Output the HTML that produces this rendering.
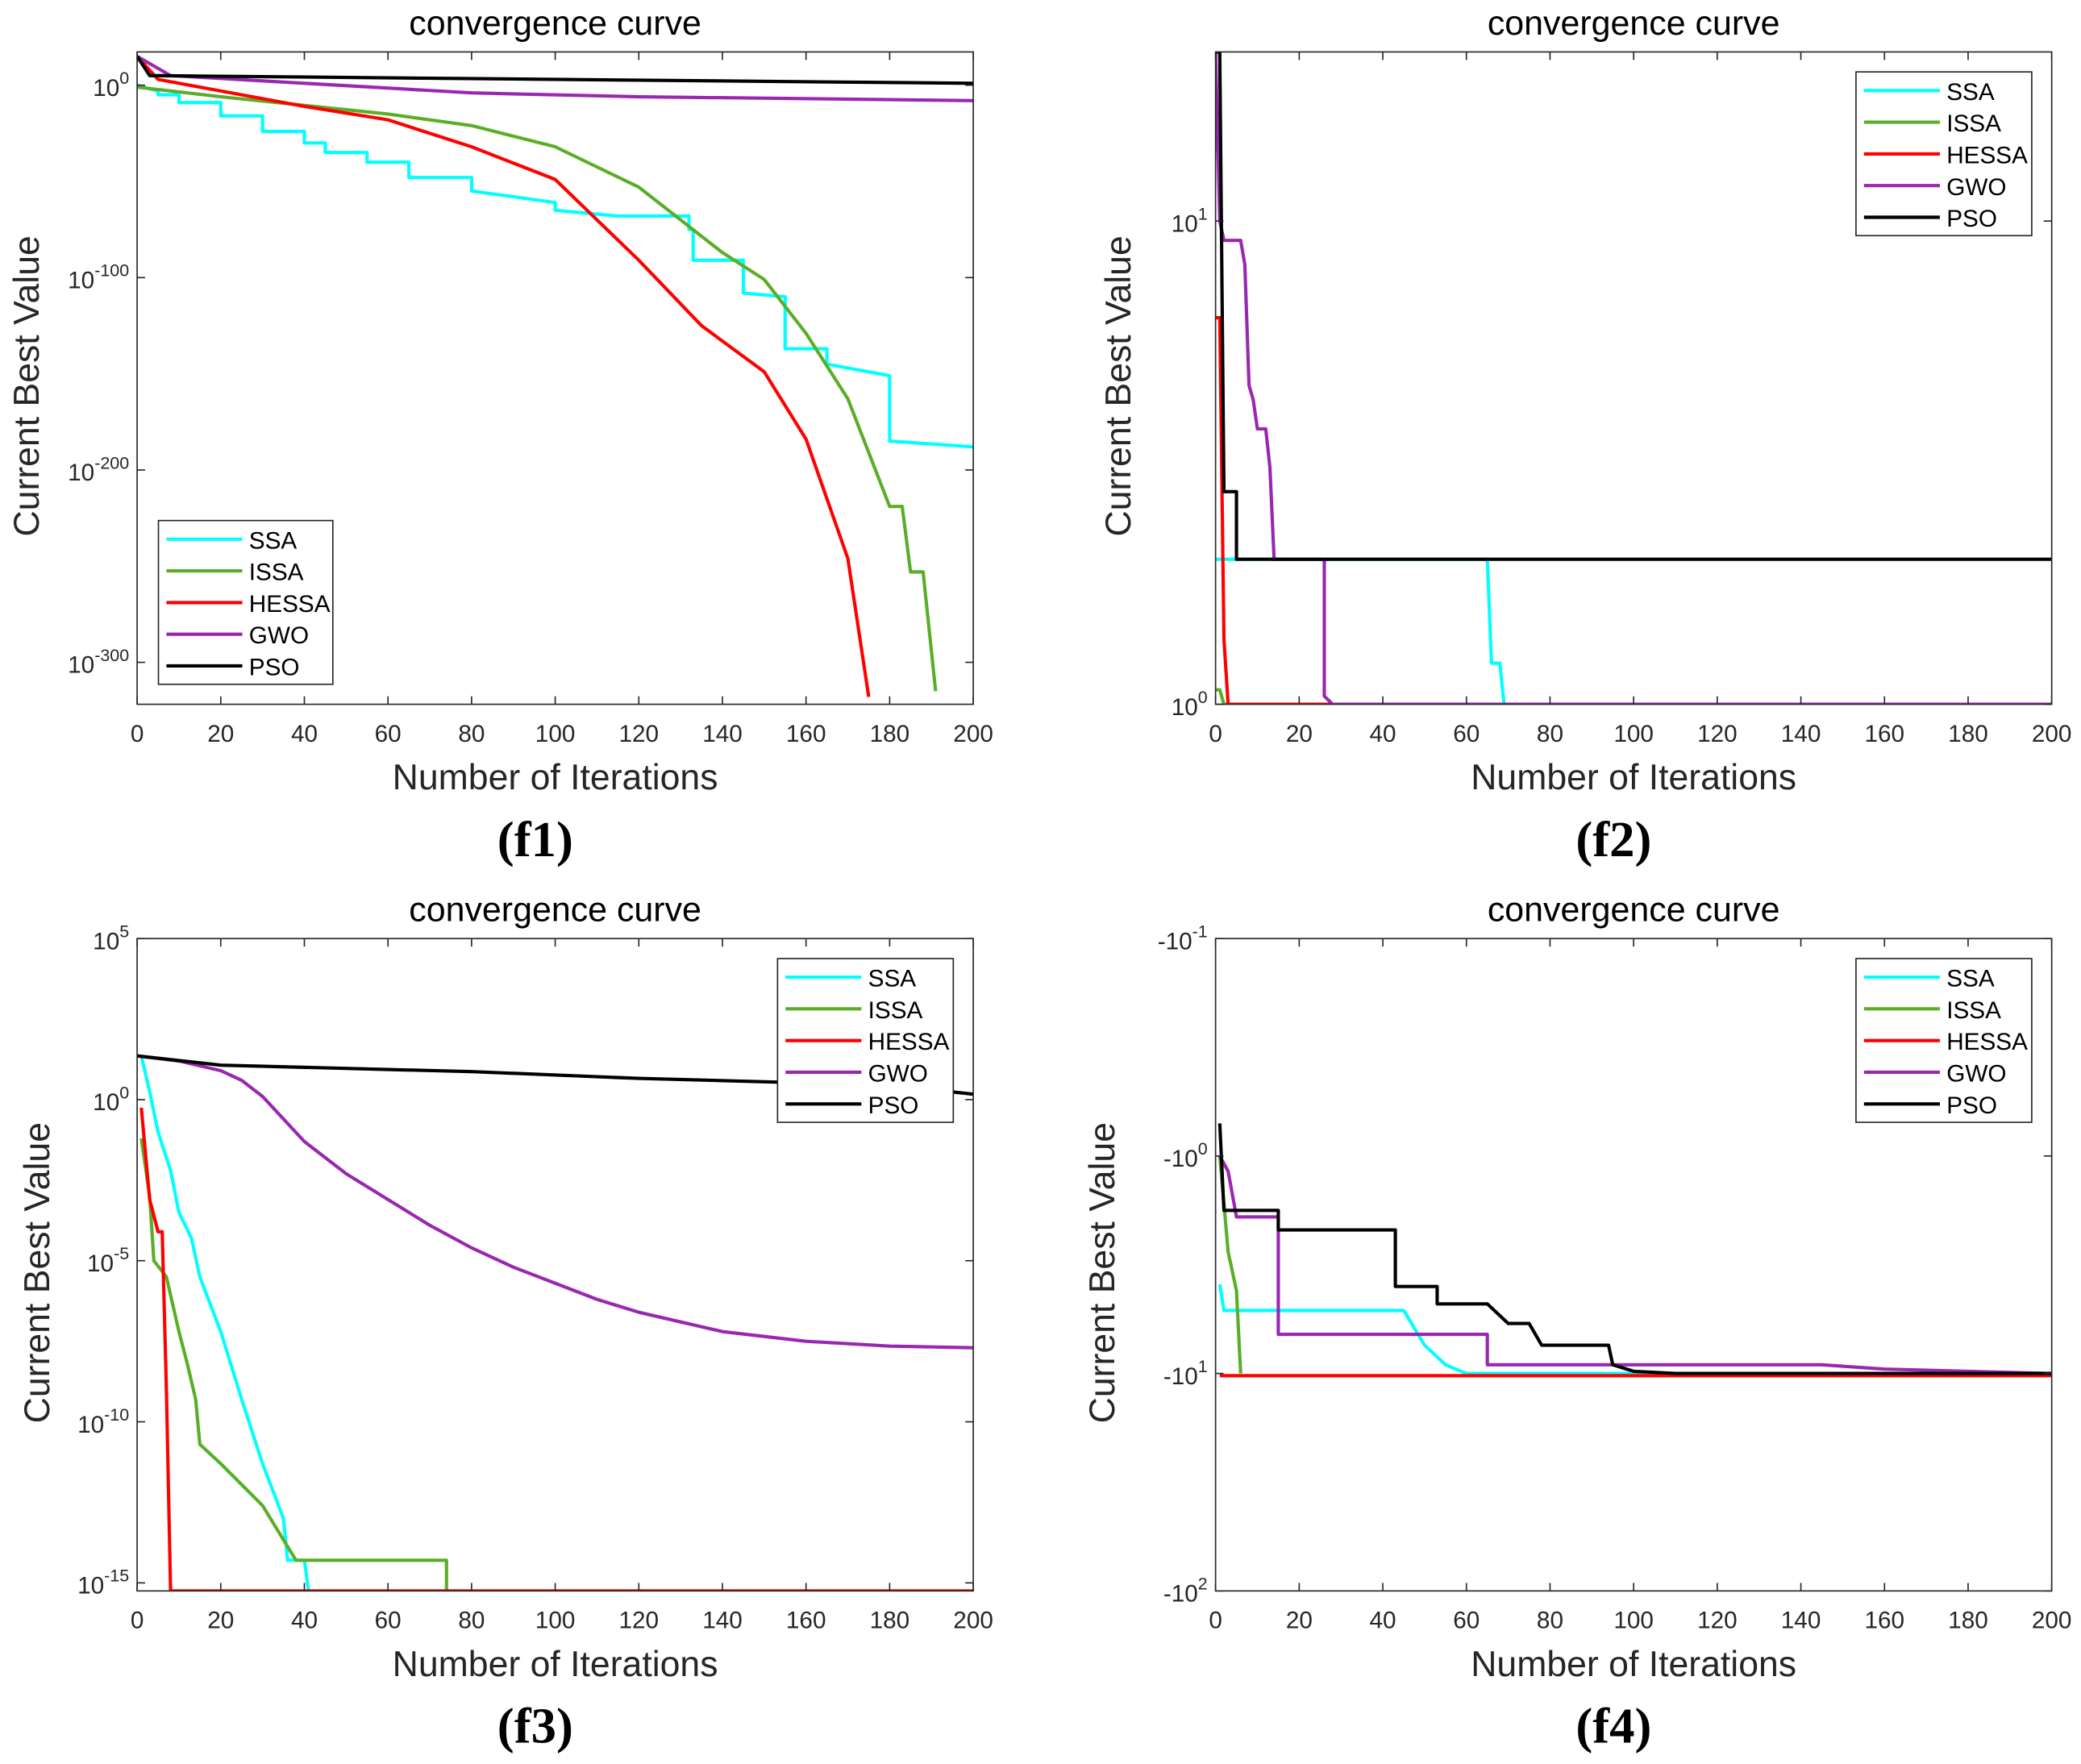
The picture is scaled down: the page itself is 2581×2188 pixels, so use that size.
<!DOCTYPE html>
<html><head><meta charset="utf-8"><style>
html,body{margin:0;padding:0;background:#fff;}
svg{display:block;font-family:"Liberation Sans",sans-serif;}
</style></head><body>
<svg id="chart" width="2581" height="2188" viewBox="0 0 1563 1325" xmlns="http://www.w3.org/2000/svg">
<rect width="1563" height="1325" fill="#fff"/>
</svg>
<script>
// ===== data: iteration arrays + log10 exponent arrays =====
const xTicks=[0,20,40,60,80,100,120,140,160,180,200];
const seriesNames=["SSA","ISSA","HESSA","GWO","PSO"];
const seriesColors=["#00ffff","#5aae27","#ff0000","#9a27b0","#000000"];

const f1SsaIt=[0,5,5,10,10,20,20,30,30,40,40,45,45,55,55,65,65,80,80,100,100,115,115,132,132,133,133,145,145,155,155,165,165,180,180,200];
const f1SsaE=[0,-3,-5,-5,-9,-9,-16,-16,-24,-24,-30,-30,-35,-35,-40,-40,-48,-48,-55,-61,-65,-68,-68,-68,-75,-75,-91,-91,-108,-110,-137,-137,-145,-151,-185,-188];
const f1IssaIt=[0,20,60,80,100,120,140,150,160,170,180,183,185,188,191];
const f1IssaE=[-1,-6,-15,-21,-32,-53,-87,-101,-129,-163,-219,-219,-253,-253,-315];
const f1HessaIt=[0,5,40,60,80,100,110,120,135,150,160,170,175];
const f1HessaE=[15,3,-11,-18,-32,-49,-70,-91,-125,-149,-184,-246,-318];
const f1GwoIt=[0,8,40,80,120,200];
const f1GwoE=[15,5,1,-4,-6,-8];
const f1PsoIt=[0,3,200];
const f1PsoE=[15,5,1];
const f1YTicks=[0,-100,-200,-300];

const f2SsaIt=[0,65,66,68,69,200];
const f2SsaE=[0.3,0.3,0.085,0.085,0,0];
const f2IssaIt=[0,1,2,200];
const f2IssaE=[0.03,0.03,0,0];
const f2HessaIt=[0,1,2,3,200];
const f2HessaE=[0.8,0.8,0.135,0,0];
const f2GwoIt=[0,1,2,6,7,8,9,10,12,13,14,26,26,28,200];
const f2GwoE=[1.35,1.0,0.96,0.96,0.91,0.66,0.63,0.57,0.57,0.49,0.30,0.30,0.017,0,0];
const f2PsoIt=[0,1,2,5,5,200];
const f2PsoE=[1.35,1.35,0.44,0.44,0.30,0.30];
const f2YTicks=[0,1];

const f3SsaIt=[1,3,5,8,10,13,15,20,25,30,35,36,40,41];
const f3SsaE=[1.36,0.25,-1,-2.2,-3.5,-4.3,-5.5,-7.2,-9.3,-11.3,-13,-14.3,-14.3,-15.25];
const f3IssaIt=[1,3,4,7,10,12,14,15,20,30,38,74,74];
const f3IssaE=[-1.2,-3,-5,-5.5,-7.2,-8.2,-9.3,-10.7,-11.3,-12.6,-14.3,-14.3,-15.25];
const f3HessaIt=[1,3,5,6,7,8,200];
const f3HessaE=[-0.25,-3.1,-4.1,-4.1,-9.0,-15.25,-15.25];
const f3GwoIt=[0,10,20,25,30,35,40,50,60,70,80,90,100,110,120,140,160,180,200];
const f3GwoE=[1.36,1.2,0.9,0.6,0.1,-0.6,-1.3,-2.3,-3.1,-3.9,-4.6,-5.2,-5.7,-6.2,-6.6,-7.2,-7.5,-7.65,-7.7];
const f3PsoIt=[0,20,80,120,180,200];
const f3PsoE=[1.36,1.07,0.87,0.66,0.45,0.17];
const f3YTicks=[5,0,-5,-10,-15];

const f4SsaIt=[1,2,45,50,55,60,200];
const f4SsaE=[0.59,0.71,0.71,0.87,0.96,1.0,1.0];
const f4IssaIt=[1,3,5,6];
const f4IssaE=[0,0.44,0.62,1.0];
const f4HessaIt=[1,200];
const f4HessaE=[1.01,1.01];
const f4GwoIt=[1,3,5,15,15,65,65,145,160,200];
const f4GwoE=[0,0.07,0.28,0.28,0.82,0.82,0.96,0.96,0.98,1.0];
const f4PsoIt=[1,2,15,15,43,43,53,53,65,70,75,78,94,95,100,110,200];
const f4PsoE=[-0.15,0.25,0.25,0.34,0.34,0.60,0.60,0.68,0.68,0.77,0.77,0.87,0.87,0.96,0.99,1.0,1.0];
const f4YTicks=[-1,0,1,2];

// ===== layout =====
const NS="http://www.w3.org/2000/svg";
const svg=document.getElementById('chart');
function mk(tag,attrs,parent){const e=document.createElementNS(NS,tag);for(const k in attrs)e.setAttribute(k,attrs[k]);(parent||svg).appendChild(e);return e;}

const panels=[
 {id:'f1',x0:103,x1:731,y0:39,y1:529,eTop:17.3,eBot:-321.8,ticks:f1YTicks,neg:false,
  its:[f1SsaIt,f1IssaIt,f1HessaIt,f1GwoIt,f1PsoIt],es:[f1SsaE,f1IssaE,f1HessaE,f1GwoE,f1PsoE],
  leg:{x:119,y:391,w:131}},
 {id:'f2',x0:913,x1:1541,y0:39,y1:529,eTop:1.35,eBot:0,ticks:f2YTicks,neg:false,
  its:[f2SsaIt,f2IssaIt,f2HessaIt,f2GwoIt,f2PsoIt],es:[f2SsaE,f2IssaE,f2HessaE,f2GwoE,f2PsoE],
  leg:{x:1394,y:54,w:132}},
 {id:'f3',x0:103,x1:731,y0:705,y1:1195,eTop:5,eBot:-15.25,ticks:f3YTicks,neg:false,
  its:[f3SsaIt,f3IssaIt,f3HessaIt,f3GwoIt,f3PsoIt],es:[f3SsaE,f3IssaE,f3HessaE,f3GwoE,f3PsoE],
  leg:{x:584,y:720,w:132}},
 {id:'f4',x0:913,x1:1541,y0:705,y1:1195,eTop:-1,eBot:2,ticks:f4YTicks,neg:true,
  its:[f4SsaIt,f4IssaIt,f4HessaIt,f4GwoIt,f4PsoIt],es:[f4SsaE,f4IssaE,f4HessaE,f4GwoE,f4PsoE],
  leg:{x:1394,y:720,w:132}}
];

panels.forEach(p=>{
  const g=mk('g',{});
  
  
  const xs=v=>p.x0+(v/200)*(p.x1-p.x0);
  const ys=e=>p.y0+(e-p.eTop)/(p.eBot-p.eTop)*(p.y1-p.y0);
  const cid='clip-'+p.id;
  const cp=mk('clipPath',{id:cid},g);
  mk('rect',{x:p.x0,y:p.y0,width:p.x1-p.x0,height:p.y1-p.y0},cp);
  const sg=mk('g',{'clip-path':'url(#'+cid+')'},g);
  p.its.forEach((it,i)=>{
    const pts=it.map((v,k)=>xs(v).toFixed(2)+','+ys(p.es[i][k]).toFixed(2)).join(' ');
    const pl=mk('polyline',{points:pts,fill:'none',stroke:seriesColors[i],'stroke-width':2.5,'stroke-linejoin':'round'},sg);
    
    
  });
  const fr=mk('rect',{x:p.x0,y:p.y0,width:p.x1-p.x0,height:p.y1-p.y0,fill:'none',stroke:'#262626','stroke-width':1},g);
  
  
  xTicks.forEach(t=>{
    const x=xs(t);
    mk('line',{x1:x,x2:x,y1:p.y1,y2:p.y1-6,stroke:'#262626'},g);
    mk('line',{x1:x,x2:x,y1:p.y0,y2:p.y0+6,stroke:'#262626'},g);
    const tx=mk('text',{x:x,y:p.y1+28,'font-size':18,'text-anchor':'middle',fill:'#262626'},g);
    tx.textContent=t;
    
    
  });
  p.ticks.forEach(e=>{
    const y=ys(e);
    mk('line',{x1:p.x0,x2:p.x0+6,y1:y,y2:y,stroke:'#262626'},g);
    mk('line',{x1:p.x1,x2:p.x1-6,y1:y,y2:y,stroke:'#262626'},g);
    const tx=mk('text',{x:p.x0-6,y:y+8,'font-size':18,'text-anchor':'end',fill:'#262626'},g);
    
    
    const b=mk('tspan',{},tx);b.textContent=(p.neg?'-':'')+'10';
    const s=mk('tspan',{dy:-9,'font-size':13},tx);s.textContent=String(e);
  });
  const cx=(p.x0+p.x1)/2;
  const ti=mk('text',{x:cx,y:p.y0-13,'font-size':26,'text-anchor':'middle',fill:'#000'},g);
  ti.textContent='convergence curve';
  
  
  const xl=mk('text',{x:cx,y:p.y1+64,'font-size':27,'text-anchor':'middle',fill:'#262626'},g);
  xl.textContent='Number of Iterations';
  
  
  const lx=p.x0-(p.id==='f1'?74:(p.id==='f3'?66:(p.id==='f4'?76:64)));
  const cy=(p.y0+p.y1)/2+6;
  const yl=mk('text',{x:lx,y:cy,'font-size':27,'text-anchor':'middle',fill:'#262626',transform:'rotate(-90 '+lx+' '+cy+')'},g);
  yl.textContent='Current Best Value';
  
  
  const pl=mk('text',{x:cx-15,y:p.y1+114,'font-size':38,'font-weight':'bold','text-anchor':'middle',fill:'#000','font-family':'Liberation Serif, serif'},g);
  pl.textContent='('+p.id+')';
  
  
  const L=p.leg;
  const lg=mk('g',{},g);
  
  
  mk('rect',{x:L.x,y:L.y,width:L.w,height:123,fill:'#fff',stroke:'#262626','stroke-width':1},lg);
  seriesNames.forEach((n,i)=>{
    const y=L.y+14+i*23.8;
    const e=mk('g',{},lg);
    
    
    mk('line',{x1:L.x+6,x2:L.x+63,y1:y,y2:y,stroke:seriesColors[i],'stroke-width':2.5},e);
    const t=mk('text',{x:L.x+68,y:y+7,'font-size':18,fill:'#000'},e);
    t.textContent=n;
  });
});
</script>
</body></html>
